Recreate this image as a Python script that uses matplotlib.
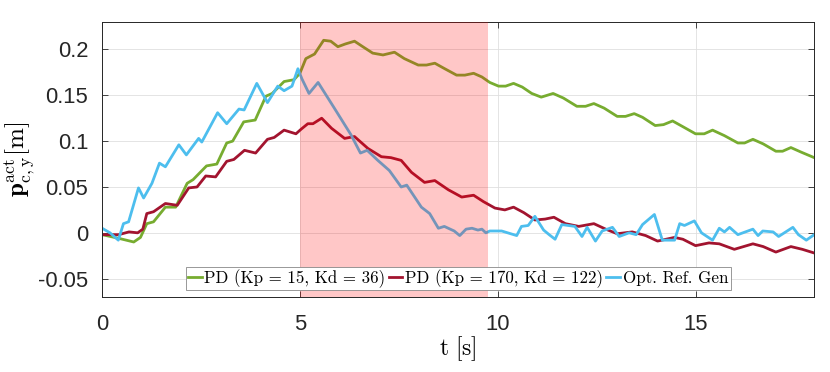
import numpy as np
import matplotlib
matplotlib.use("Agg")
import matplotlib.pyplot as plt

plt.rcParams['mathtext.fontset'] = 'cm'
plt.rcParams['axes.unicode_minus'] = False
plt.rcParams['font.family'] = 'Liberation Sans'

### data ###
t_green = [0, 0.42, 0.8, 0.97, 1.13, 1.3, 1.6, 1.86, 2.15, 2.3, 2.64, 2.9, 3.15, 3.3, 3.58,
           3.87, 4.14, 4.3, 4.6, 4.85, 5.0, 5.15, 5.37, 5.6, 5.78, 5.96, 6.15, 6.38, 6.59,
           6.84, 7.1, 7.39, 7.64, 7.99, 8.2, 8.41, 8.66, 8.96, 9.17, 9.39, 9.6, 9.8, 10.02,
           10.2, 10.4, 10.62, 10.86, 11.1, 11.4, 11.66, 12.0, 12.22, 12.43, 12.69, 13.02,
           13.23, 13.45, 13.66, 13.98, 14.19, 14.42, 14.67, 15.0, 15.22, 15.43, 15.73,
           16.07, 16.24, 16.45, 16.71, 17.03, 17.2, 17.41, 17.67, 18.0]
y_green = [-0.002, -0.006, -0.01, -0.005, 0.01, 0.012, 0.028, 0.028, 0.054, 0.058, 0.073,
           0.075, 0.098, 0.1, 0.121, 0.123, 0.149, 0.152, 0.165, 0.167, 0.174, 0.19, 0.195,
           0.21, 0.209, 0.203, 0.206, 0.209, 0.203, 0.196, 0.194, 0.197, 0.19, 0.183, 0.183,
           0.185, 0.179, 0.172, 0.172, 0.174, 0.17, 0.164, 0.16, 0.16, 0.163, 0.159, 0.152,
           0.148, 0.152, 0.147, 0.138, 0.138, 0.141, 0.136, 0.127, 0.127, 0.13, 0.126,
           0.117, 0.118, 0.122, 0.116, 0.108, 0.108, 0.112, 0.106, 0.098, 0.098, 0.102,
           0.097, 0.089, 0.089, 0.093, 0.088, 0.082]

t_red = [0, 0.42, 0.68, 0.9, 1.03, 1.13, 1.3, 1.6, 1.9, 2.19, 2.4, 2.62, 2.87, 3.15, 3.33,
         3.6, 3.88, 4.18, 4.35, 4.6, 4.9, 5.03, 5.2, 5.33, 5.55, 5.8, 6.13, 6.38, 6.72,
         7.06, 7.3, 7.56, 7.82, 8.15, 8.41, 8.75, 9.09, 9.39, 9.64, 9.93, 10.18, 10.4,
         10.66, 10.94, 11.2, 11.42, 11.71, 12.05, 12.43, 12.73, 13.02, 13.4, 13.74, 14.04,
         14.47, 14.68, 15.0, 15.34, 15.6, 15.98, 16.45, 16.71, 17.03, 17.41, 17.7, 18.0]
y_red = [-0.002, -0.002, 0.001, 0.0, 0.004, 0.021, 0.023, 0.032, 0.03, 0.049, 0.05, 0.062,
         0.061, 0.078, 0.08, 0.09, 0.087, 0.102, 0.104, 0.112, 0.108, 0.113, 0.119, 0.119,
         0.125, 0.114, 0.103, 0.105, 0.092, 0.083, 0.082, 0.079, 0.066, 0.055, 0.057,
         0.047, 0.039, 0.041, 0.034, 0.027, 0.025, 0.028, 0.022, 0.014, 0.015, 0.017, 0.01,
         0.007, 0.01, 0.004, -0.001, 0.001, -0.003, -0.009, -0.005, -0.007, -0.014,
         -0.011, -0.012, -0.018, -0.012, -0.015, -0.021, -0.015, -0.018, -0.022]

t_blue = [0, 0.2, 0.41, 0.54, 0.67, 0.92, 1.05, 1.26, 1.45, 1.6, 1.94, 2.13, 2.44, 2.52,
          2.92, 3.15, 3.46, 3.59, 3.91, 4.18, 4.44, 4.6, 4.8, 4.95, 5.05, 5.23, 5.46, 5.87,
          6.29, 6.53, 6.7, 6.97, 7.26, 7.56, 7.7, 8.07, 8.28, 8.5, 8.65, 8.9, 9.04, 9.2,
          9.35, 9.5, 9.6, 9.7, 9.8, 10.1, 10.48, 10.6, 10.77, 10.94, 11.16, 11.3, 11.45,
          11.62, 11.95, 12.13, 12.26, 12.47, 12.64, 12.9, 13.07, 13.32, 13.5, 13.66, 13.96,
          14.16, 14.47, 14.6, 14.72, 14.97, 15.15, 15.43, 15.6, 15.73, 15.86, 16.07, 16.45,
          16.58, 16.7, 16.96, 17.1, 17.46, 17.6, 17.8, 18.0]
y_blue = [0.005, 0.0, -0.008, 0.01, 0.012, 0.049, 0.038, 0.054, 0.076, 0.072, 0.096, 0.085,
          0.103, 0.099, 0.131, 0.119, 0.135, 0.134, 0.163, 0.142, 0.16, 0.155, 0.16, 0.179,
          0.168, 0.152, 0.164, 0.136, 0.107, 0.087, 0.09, 0.079, 0.068, 0.05, 0.052, 0.028,
          0.021, 0.005, 0.007, 0.002, -0.003, 0.004, 0.005, 0.003, 0.004, 0.0, 0.002, 0.002,
          -0.003, 0.007, 0.008, 0.018, 0.003, -0.002, -0.007, 0.009, 0.007, -0.004, 0.006,
          -0.009, 0.002, 0.006, -0.004, 0.0, -0.002, 0.009, 0.02, -0.008, -0.008, 0.01,
          0.008, 0.013, 0.0, -0.008, 0.005, 0.001, 0.006, -0.002, 0.004, -0.003, 0.002,
          0.001, -0.004, 0.006, -0.002, -0.008, -0.002]

labels = ['PD (Kp = 15, Kd = 36)', 'PD (Kp = 170, Kd = 122)', 'Opt. Ref. Gen']
span = (5, 9.75)
xticks = [0, 5, 10, 15]
yticks = [-0.05, 0, 0.05, 0.1, 0.15, 0.2]
yticklabels = ['-0.05', '0', '0.05', '0.1', '0.15', '0.2']

### figure ###
green = (0.466, 0.674, 0.188)
red = (0.635, 0.078, 0.184)
blue = (0.301, 0.745, 0.933)
axcol = '#262626'

fig = plt.figure(figsize=(8.3, 3.72), dpi=100)
ax = fig.add_axes([0.123, 0.2016, 0.858, 0.7394])

ax.plot(t_green, y_green, color=green, lw=2, label=labels[0])
ax.plot(t_red, y_red, color=red, lw=2, label=labels[1])
ax.plot(t_blue, y_blue, color=blue, lw=2, label=labels[2])
ax.axvspan(*span, color='red', alpha=0.22, lw=0, zorder=5)

ax.set_xlim(0, 18)
ax.set_ylim(-0.07, 0.23)
ax.set_xticks(xticks)
ax.set_yticks(yticks)
ax.set_yticklabels(yticklabels)
ax.grid(True, color='#dfdfdf', lw=0.6)
ax.set_axisbelow(True)
ax.tick_params(direction='in', top=True, right=True, length=4, width=0.6,
               colors=axcol, labelsize=15.8)
ax.tick_params(axis='x', pad=12)
ax.tick_params(axis='y', pad=10)
for s in ax.spines.values():
    s.set_color(axcol)
    s.set_linewidth(0.7)

ax.set_xlabel(r'$\mathrm{t}\ [\mathrm{s}]$', fontsize=17, labelpad=0)
ax.set_ylabel(r'$\mathbf{p}_{\mathrm{c,y}}^{\mathrm{act}}[\mathrm{m}]$', fontsize=18, labelpad=1)

leg = ax.legend(loc='lower center', bbox_to_anchor=(0.5, 0.012), ncol=3,
                prop={'family': 'cmr10', 'size': 12.2},
                handlelength=0.8, handletextpad=0.15, columnspacing=0.2,
                borderpad=0.15, borderaxespad=0.2, fancybox=False, framealpha=1,
                edgecolor='#888888')
leg.get_frame().set_linewidth(0.6)
leg.set_zorder(10)

plt.savefig('out.png', dpi=100)
